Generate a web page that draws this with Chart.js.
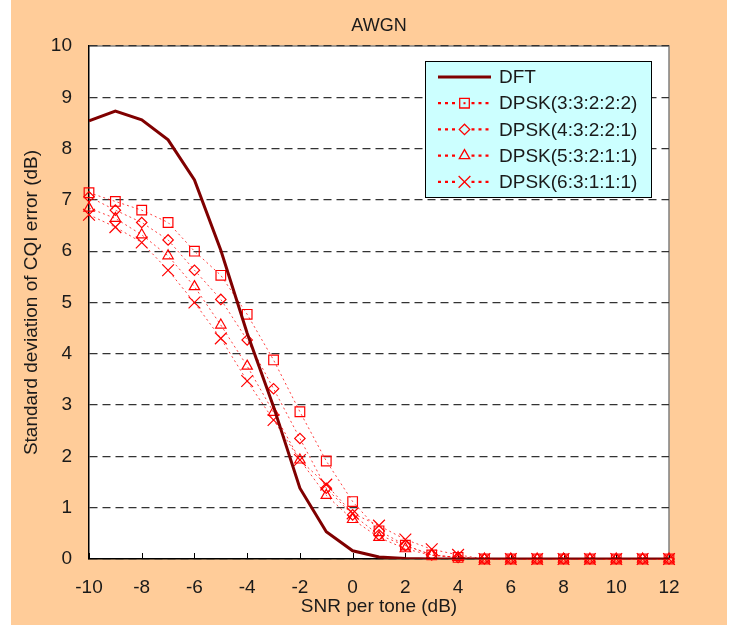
<!DOCTYPE html>
<html>
<head>
<meta charset="utf-8">
<script src="https://cdn.jsdelivr.net/npm/chart.js@4/dist/chart.umd.min.js"></script>
<style>
  html, body { margin: 0; padding: 0; background: #fff; }
  #wrap { width: 736px; height: 626px; }
</style>
</head>
<body>
<div id="wrap"><canvas id="cqi" width="736" height="626"></canvas></div>
<script>
// SNR per tone (dB)
const snr = [-10, -9, -8, -7, -6, -5, -4, -3, -2, -1, 0, 1, 2, 3, 4, 5, 6, 7, 8, 9, 10, 11, 12];

// std deviation of CQI error (dB)
const dft    = [8.54, 8.73, 8.56, 8.17, 7.39, 6.02, 4.40, 2.97, 1.38, 0.53, 0.16, 0.04, 0.01, 0, 0, 0, 0, 0, 0, 0, 0, 0, 0];
const dpsk3  = [7.14, 6.97, 6.80, 6.56, 6.00, 5.53, 4.77, 3.88, 2.87, 1.91, 1.12, 0.55, 0.27, 0.08, 0.03, 0, 0, 0, 0, 0, 0, 0, 0];
const dpsk4  = [7.06, 6.80, 6.56, 6.22, 5.63, 5.06, 4.27, 3.32, 2.35, 1.38, 0.86, 0.47, 0.26, 0.08, 0.03, 0, 0, 0, 0, 0, 0, 0, 0];
const dpsk5  = [6.84, 6.64, 6.32, 5.91, 5.31, 4.56, 3.76, 2.86, 1.93, 1.24, 0.77, 0.42, 0.20, 0.07, 0.03, 0, 0, 0, 0, 0, 0, 0, 0];
const dpsk6  = [6.71, 6.47, 6.17, 5.63, 5.00, 4.30, 3.47, 2.71, 1.93, 1.45, 0.89, 0.65, 0.38, 0.19, 0.08, 0, 0, 0, 0, 0, 0, 0, 0];

const seriesNames = ['DFT', 'DPSK(3:3:2:2:2)', 'DPSK(4:3:2:2:1)', 'DPSK(5:3:2:1:1)', 'DPSK(6:3:1:1:1)'];
const xTicks = [-10, 12, 2];   // min, max, step
const yTicks = [0, 10, 1];

const FONT = "'Liberation Sans', Arial, sans-serif";
const RED = '#ff0000';

const pts = arr => snr.map((x, i) => ({ x: x, y: arr[i] }));

function dpskSet(label, arr, style, r) {
  return {
    label: label,
    data: pts(arr),
    borderColor: 'rgba(255,0,0,0.75)',
    borderWidth: 1,
    borderDash: [2, 3],
    pointStyle: style,
    pointRadius: r,
    pointHoverRadius: r,
    pointBorderColor: RED,
    pointBackgroundColor: 'rgba(0,0,0,0)',
    pointBorderWidth: 1.2,
    fill: false,
    tension: 0,
    clip: false
  };
}

// backgrounds, plot frame, inward x ticks, legend box and title
const frame = {
  id: 'frame',
  beforeDraw(chart) {
    const { ctx, chartArea: a } = chart;
    ctx.save();
    ctx.fillStyle = '#ffffff';
    ctx.fillRect(0, 0, chart.width, chart.height);
    ctx.fillStyle = '#ffcc99';
    ctx.fillRect(11, 0, 716, 625);
    ctx.fillStyle = '#ffffff';
    ctx.fillRect(a.left, a.top, a.right - a.left, a.bottom - a.top);
    ctx.strokeStyle = '#808080';
    ctx.lineWidth = 1.5;
    ctx.beginPath();
    ctx.moveTo(a.left, a.top);
    ctx.lineTo(a.right, a.top);
    ctx.lineTo(a.right, a.bottom);
    ctx.stroke();
    ctx.restore();
  },
  beforeDatasetsDraw(chart) {
    const { ctx, chartArea: a, scales } = chart;
    ctx.save();
    ctx.strokeStyle = '#000';
    ctx.lineWidth = 1;
    scales.x.ticks.forEach(t => {
      const px = Math.round(scales.x.getPixelForValue(t.value)) + 0.5;
      ctx.beginPath();
      ctx.moveTo(px, a.bottom);
      ctx.lineTo(px, a.bottom - 6);
      ctx.stroke();
    });
    ctx.restore();
  },
  afterDraw(chart) {
    const { ctx, chartArea: a } = chart;
    ctx.save();
    // title
    ctx.fillStyle = '#1a1a1a';
    ctx.font = '18px ' + FONT;
    ctx.textAlign = 'center';
    ctx.textBaseline = 'middle';
    ctx.fillText('AWGN', (a.left + a.right) / 2, 26);

    // legend
    const bx = 425.5, by = 61.5, bw = 226, bh = 136;
    ctx.fillStyle = '#ccffff';
    ctx.fillRect(bx, by, bw, bh);
    ctx.strokeStyle = '#000';
    ctx.lineWidth = 1;
    ctx.strokeRect(bx, by, bw, bh);
    ctx.font = '19px ' + FONT;
    ctx.textAlign = 'left';
    chart.data.datasets.forEach((ds, i) => {
      const y = 77 + i * 26.2;
      const x0 = 438, x1 = 491, xm = (x0 + x1) / 2;
      ctx.save();
      if (ds.pointStyle === false) {
        ctx.strokeStyle = ds.borderColor;
        ctx.lineWidth = 3;
        ctx.beginPath();
        ctx.moveTo(x0, y);
        ctx.lineTo(x1, y);
        ctx.stroke();
      } else {
        ctx.strokeStyle = RED;
        ctx.lineWidth = 2.2;
        ctx.setLineDash([3, 4]);
        ctx.beginPath();
        ctx.moveTo(x0, y);
        ctx.lineTo(xm - 7, y);
        ctx.moveTo(xm + 7, y);
        ctx.lineTo(x1, y);
        ctx.stroke();
        ctx.setLineDash([]);
        ctx.lineWidth = 1.3;
        const r = ds.pointRadius;
        ctx.beginPath();
        if (ds.pointStyle === 'rect') {
          const s = r * Math.SQRT1_2;
          ctx.rect(xm - s, y - s, 2 * s, 2 * s);
          ctx.stroke();
          ctx.fillStyle = RED;
          ctx.fillRect(xm - 1, y - 1, 2, 2);
        } else if (ds.pointStyle === 'rectRot') {
          ctx.moveTo(xm - r, y); ctx.lineTo(xm, y - r); ctx.lineTo(xm + r, y); ctx.lineTo(xm, y + r);
          ctx.closePath();
          ctx.stroke();
        } else if (ds.pointStyle === 'triangle') {
          ctx.moveTo(xm, y - r); ctx.lineTo(xm + r * 0.866, y + r / 2); ctx.lineTo(xm - r * 0.866, y + r / 2);
          ctx.closePath();
          ctx.stroke();
        } else {
          const s = r * Math.SQRT1_2;
          ctx.moveTo(xm - s, y - s); ctx.lineTo(xm + s, y + s);
          ctx.moveTo(xm + s, y - s); ctx.lineTo(xm - s, y + s);
          ctx.stroke();
        }
      }
      ctx.restore();
      ctx.fillStyle = '#1a1a1a';
      ctx.textBaseline = 'middle';
      ctx.fillText(ds.label, 499, y + 1);
    });
    ctx.restore();
  }
};

new Chart(document.getElementById('cqi'), {
  type: 'line',
  data: {
    datasets: [
      {
        label: seriesNames[0],
        data: pts(dft),
        borderColor: '#800000',
        borderWidth: 3,
        pointStyle: false,
        pointRadius: 0,
        fill: false,
        tension: 0,
        order: 0
      },
      Object.assign(dpskSet(seriesNames[1], dpsk3, 'rect', 6.8), { order: 1 }),
      Object.assign(dpskSet(seriesNames[2], dpsk4, 'rectRot', 5.2), { order: 2 }),
      Object.assign(dpskSet(seriesNames[3], dpsk5, 'triangle', 6), { order: 3 }),
      Object.assign(dpskSet(seriesNames[4], dpsk6, 'crossRot', 8.3), { order: 4 })
    ]
  },
  options: {
    responsive: false,
    animation: false,
    layout: { padding: { top: 46, right: 67, left: 0, bottom: 0 } },
    plugins: {
      legend: { display: false },
      title: { display: false },
      tooltip: { enabled: false }
    },
    scales: {
      x: {
        type: 'linear',
        min: xTicks[0],
        max: xTicks[1],
        afterFit: s => { s.height = 67; },
        grid: { display: false, drawTicks: false },
        border: { display: true, color: '#000', width: 1.5 },
        ticks: {
          stepSize: xTicks[2],
          padding: 17,
          color: '#1a1a1a',
          font: { family: FONT, size: 19 }
        },
        title: {
          display: true,
          text: 'SNR per tone (dB)',
          color: '#1a1a1a',
          font: { family: FONT, size: 19 },
          padding: { top: 0, bottom: 8 }
        }
      },
      y: {
        min: yTicks[0],
        max: yTicks[1],
        afterFit: s => { s.width = 89; },
        grid: {
          color: '#333',
          lineWidth: 1.2,
          drawTicks: false
        },
        border: { display: true, color: '#000', width: 1.5, dash: [8, 5] },
        ticks: {
          stepSize: yTicks[2],
          padding: 17,
          color: '#1a1a1a',
          font: { family: FONT, size: 19 }
        },
        title: {
          display: true,
          text: 'Standard deviation of CQI error (dB)',
          color: '#1a1a1a',
          font: { family: FONT, size: 19 },
          padding: { top: 20, bottom: 0 }
        }
      }
    }
  },
  plugins: [frame]
});
</script>
</body>
</html>
